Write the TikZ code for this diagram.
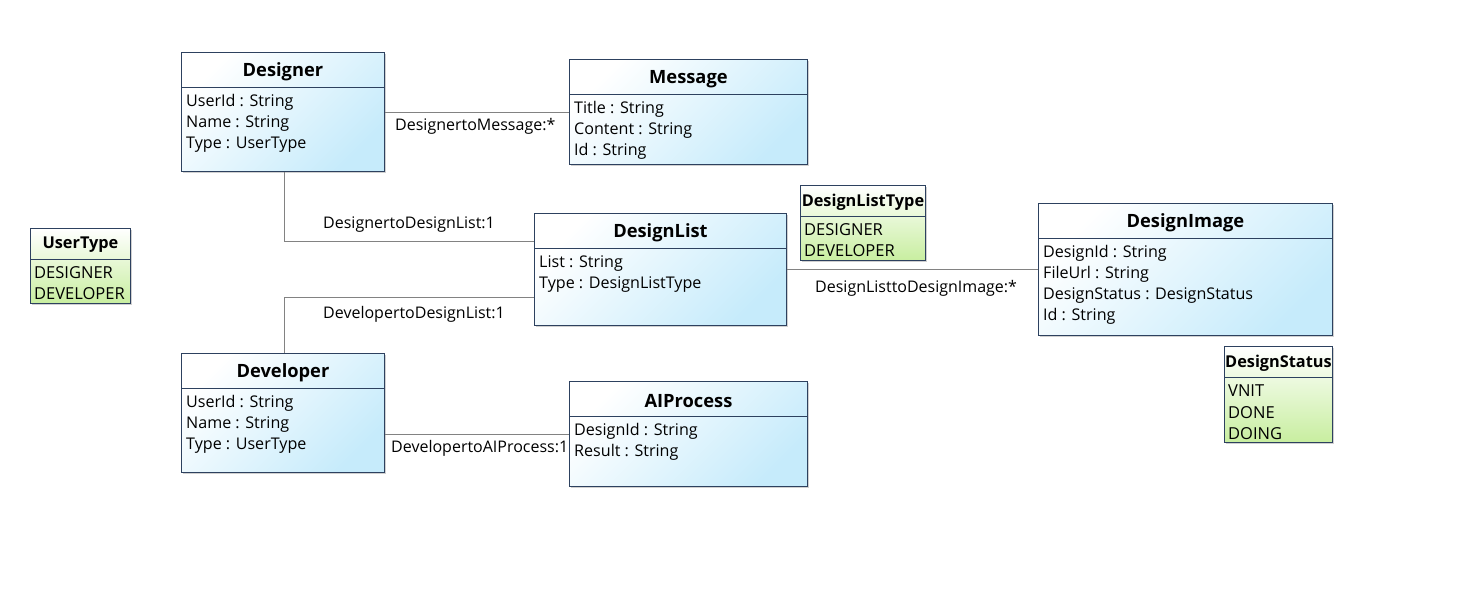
\documentclass[tikz,border=0pt]{standalone}
\usepackage{fontspec}
\setmainfont{Open Sans}
\usetikzlibrary{positioning,shadows}

\definecolor{classblue}{RGB}{198,235,251}
\definecolor{enumgreen}{RGB}{200,238,160}
\definecolor{boxline}{RGB}{45,65,95}
\definecolor{assocgray}{RGB}{130,130,130}

\tikzset{
    classbox/.style={draw=boxline, line width=0.9pt, top color=white, bottom color=classblue,
        shading angle=45, inner sep=0pt, anchor=north west,
        drop shadow={shadow xshift=2pt, shadow yshift=-2pt, fill=black!30, opacity=0.6}},
    enumbox/.style={classbox, bottom color=enumgreen},
    classtitle/.style={font=\fontsize{18.3}{22}\selectfont\bfseries, inner sep=0pt},
    enumtitle/.style={font=\fontsize{16.3}{20}\selectfont\bfseries, inner sep=0pt},
    attrs/.style={font=\fontsize{16.1}{21}\selectfont, align=left, anchor=north west, inner sep=0pt},
    enumattrs/.style={attrs, font=\fontsize{16.5}{21.5}\selectfont},
    divider/.style={draw=boxline, line width=0.9pt},
    assoc/.style={draw=assocgray, line width=0.8pt},
    lbl/.style={font=\fontsize{16}{19}\selectfont, anchor=west, inner sep=0pt}
}

\begin{document}
\begin{tikzpicture}[x=1pt, y=-1pt]
    \useasboundingbox[fill=white] (0,0) rectangle (1468,601);

    % Classes
    \node[classbox, minimum width=203pt, minimum height=119pt] (designer) at (181,52) {};
    \node[classtitle] (designerT) at ([yshift=-20pt]designer.north) {Designer};
    \draw[divider] ([yshift=-35pt]designer.north west) -- ([yshift=-35pt]designer.north east);
    \node[attrs] (designerA) at ([xshift=5pt, yshift=-42pt]designer.north west) {UserId : String\\Name : String\\Type : UserType};

    \node[classbox, minimum width=238pt, minimum height=105pt] (message) at (569,59) {};
    \node[classtitle] (messageT) at ([yshift=-20pt]message.north) {Message};
    \draw[divider] ([yshift=-35pt]message.north west) -- ([yshift=-35pt]message.north east);
    \node[attrs] (messageA) at ([xshift=5pt, yshift=-42pt]message.north west) {Title : String\\Content : String\\Id : String};

    \node[classbox, minimum width=252pt, minimum height=112pt] (designlist) at (534,213) {};
    \node[classtitle] (designlistT) at ([yshift=-20pt]designlist.north) {DesignList};
    \draw[divider] ([yshift=-35pt]designlist.north west) -- ([yshift=-35pt]designlist.north east);
    \node[attrs] (designlistA) at ([xshift=5pt, yshift=-42pt]designlist.north west) {List : String\\Type : DesignListType};

    \node[classbox, minimum width=203pt, minimum height=119pt] (developer) at (181,353) {};
    \node[classtitle] (developerT) at ([yshift=-20pt]developer.north) {Developer};
    \draw[divider] ([yshift=-35pt]developer.north west) -- ([yshift=-35pt]developer.north east);
    \node[attrs] (developerA) at ([xshift=5pt, yshift=-42pt]developer.north west) {UserId : String\\Name : String\\Type : UserType};

    \node[classbox, minimum width=238pt, minimum height=105pt] (aiprocess) at (569,381) {};
    \node[classtitle] (aiprocessT) at ([yshift=-20pt]aiprocess.north) {AIProcess};
    \draw[divider] ([yshift=-35pt]aiprocess.north west) -- ([yshift=-35pt]aiprocess.north east);
    \node[attrs] (aiprocessA) at ([xshift=5pt, yshift=-42pt]aiprocess.north west) {DesignId : String\\Result : String};

    \node[classbox, minimum width=294pt, minimum height=132pt] (designimage) at (1038,203) {};
    \node[classtitle] (designimageT) at ([yshift=-20pt]designimage.north) {DesignImage};
    \draw[divider] ([yshift=-35pt]designimage.north west) -- ([yshift=-35pt]designimage.north east);
    \node[attrs] (designimageA) at ([xshift=5pt, yshift=-42pt]designimage.north west) {DesignId : String\\FileUrl : String\\DesignStatus : DesignStatus\\Id : String};

    % Enumerations
    \node[enumbox, minimum width=100pt, minimum height=75pt] (usertype) at (30,228) {};
    \node[enumtitle] (usertypeT) at ([yshift=-17pt]usertype.north) {UserType};
    \draw[divider] ([yshift=-31pt]usertype.north west) -- ([yshift=-31pt]usertype.north east);
    \node[enumattrs] (usertypeA) at ([xshift=4pt, yshift=-38pt]usertype.north west) {DESIGNER\\DEVELOPER};

    \node[enumbox, minimum width=125pt, minimum height=75pt] (designlisttype) at (800,185) {};
    \node[enumtitle] (designlisttypeT) at ([yshift=-17pt]designlisttype.north) {DesignListType};
    \draw[divider] ([yshift=-31pt]designlisttype.north west) -- ([yshift=-31pt]designlisttype.north east);
    \node[enumattrs] (designlisttypeA) at ([xshift=4pt, yshift=-38pt]designlisttype.north west) {DESIGNER\\DEVELOPER};

    \node[enumbox, minimum width=108pt, minimum height=96pt] (designstatus) at (1224,346) {};
    \node[enumtitle] (designstatusT) at ([yshift=-17pt]designstatus.north) {DesignStatus};
    \draw[divider] ([yshift=-31pt]designstatus.north west) -- ([yshift=-31pt]designstatus.north east);
    \node[enumattrs] (designstatusA) at ([xshift=4pt, yshift=-39pt]designstatus.north west) {VNIT\\DONE\\DOING};

    % Associations
    \draw[assoc] (designer.east) -- (message.west);
    \draw[assoc] ([xshift=1.5pt]designer.south) |- ([yshift=28pt]designlist.west);
    \draw[assoc] ([xshift=1.5pt]developer.north) |- ([yshift=-28pt]designlist.west);
    \draw[assoc] (aiprocess.west -| developer.east) -- (aiprocess.west);
    \draw[assoc] (designlist.east) -- (designimage.west);

    % Association labels
    \node[lbl] (lblmsg) at (395,126) {DesignertoMessage:*};
    \node[lbl] (lbldes) at (323,225) {DesignertoDesignList:1};
    \node[lbl] (lbldev) at (323,314) {DevelopertoDesignList:1};
    \node[lbl] (lblai) at (391,448) {DevelopertoAIProcess:1};
    \node[lbl] (lblimg) at (815,288) {DesignListtoDesignImage:*};
\end{tikzpicture}
\end{document}
